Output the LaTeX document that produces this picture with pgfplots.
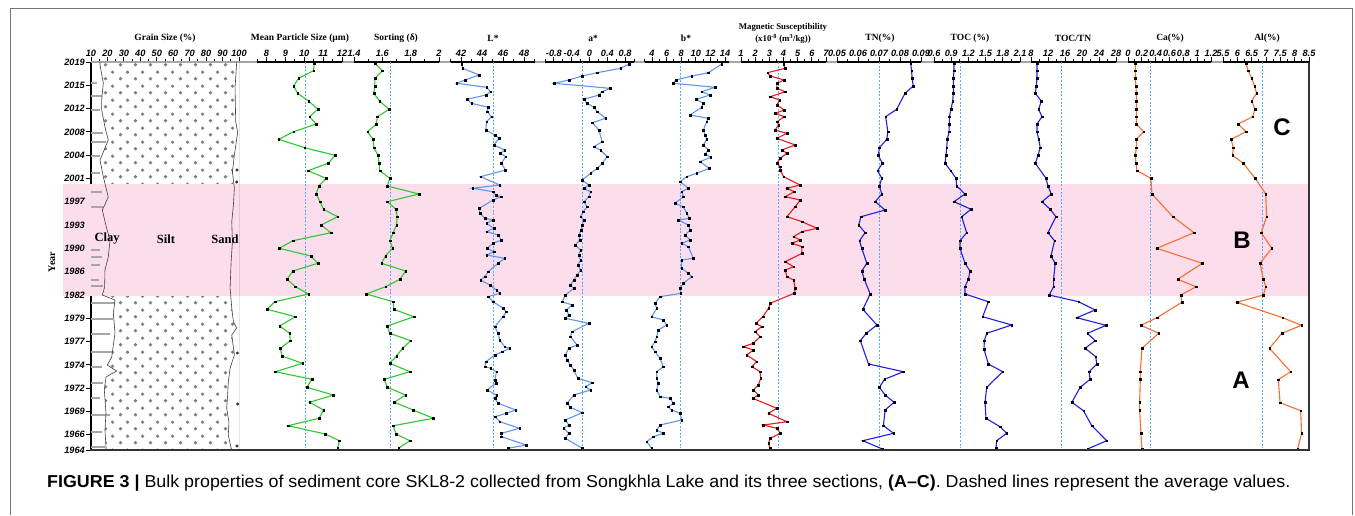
\documentclass[border=0pt]{standalone}
\usepackage{fontspec}
\setmainfont{Liberation Serif}
\newfontfamily\arial{Liberation Sans}
\usepackage{pgfplots}
\pgfplotsset{compat=1.18}
\usepgfplotslibrary{fillbetween}
\usetikzlibrary{patterns.meta}

\definecolor{pinkband}{RGB}{251,221,236}
\definecolor{lgreen}{RGB}{45,200,45}
\definecolor{lblue}{RGB}{95,150,240}
\definecolor{mred}{RGB}{238,25,25}
\definecolor{dblue}{RGB}{30,30,230}
\definecolor{orng}{RGB}{248,110,45}
\definecolor{avgc}{RGB}{85,170,250}

\newcommand\tickfont{\arial\bfseries\itshape\fontsize{9.2}{9.5}\selectfont}
\newcommand\ttlfont{\bfseries\fontsize{9.5}{10}\selectfont}

\tikzdeclarepattern{
  name=siltdots, type=colored,
  bottom left={(0pt,0pt)}, top right={(14.5pt,14pt)},
  tile size={(14.5pt,14pt)},
  code={
    \fill[black!50] (3.6pt,3.5pt) circle[radius=1.9pt];
    \fill[black!50] (10.85pt,10.5pt) circle[radius=1.9pt];
  }
}

\pgfplotsset{
  panel/.style={
    scale only axis, anchor=north west, height=388pt,
    ymin=0, ymax=388, y dir=reverse,
    axis x line*=top,
    axis line style={black, line width=1.1pt},
    tick style={black, line width=0.9pt},
    tick align=outside,
    major tick length=5pt, minor tick length=2.8pt,
    xticklabel style={font=\tickfont, inner sep=0.5pt},
    scaled x ticks=false,
  },
  rest/.style={panel, axis y line=none, ytick=\empty},
  ser/.style={line width=1.1pt, color=#1, mark=square*, mark size=0.85pt,
    mark options={draw=black, fill=black, line width=0.2pt}},
  avg/.style={avgc, line width=0.9pt, dash pattern=on 2pt off 1.6pt, mark=none},
}

\begin{document}
\begin{tikzpicture}
\begin{scope}[x=1pt,y=1pt]
\useasboundingbox (0,0) rectangle (1355,-515);
\draw[black!55, line width=1pt] (10,-515) -- (10,-8) -- (1352,-8) -- (1352,-515);
\fill[pinkband] (63,-184) rectangle (1309,-296);
\draw[black!35, line width=1.6pt] (91,-62) -- (1309,-62);
\end{scope}

% grain size
\begin{axis}[panel, at={(91pt,-62pt)}, width=148pt, xmin=10, xmax=100,
  xtick={10,20,...,100}, minor xtick={15,25,...,95},
  xticklabels={10,20,30,40,50,60,70,80,90,100},
  axis y line*=left,
  ytick={0,23.3,46.6,69.9,93.2,116.5,139.8,163.1,186.4,209.7,233,256.3,279.6,302.9,326.2,349.5,372.8,388},
  yticklabels={2019,2015,2012,2008,2004,2001,1997,1993,1990,1986,1982,1979,1977,1974,1972,1969,1966,1964},
  yticklabel style={font=\tickfont, inner sep=1pt},
  axis background/.style={fill=white}]
\addplot[xcomb, black!35, line width=1.5pt, mark=none] coordinates {
  (13.4,21) (16.5,34) (15.5,48) (17.5,71) (19,80) (15.5,94) (15.5,111) (16.5,130)
  (17.5,145) (15.5,188) (16.5,195) (15.5,203) (14.8,218) (17.5,224) (24.6,241)
  (23.6,257) (21.6,272) (23.6,290) (16.5,305) (17.5,321) (15.5,336) (21.6,353)
  (16.5,370) (18.5,385)};
\addplot[name path=clay, black!75, line width=0.6pt] coordinates {
  (15.5,0) (15.5,3) (17.5,21) (16.5,38) (16.5,48) (18.5,65) (20.5,78) (15.5,98)
  (17.5,115) (20.5,135) (16.9,148) (19.3,165) (21.6,178) (20.5,195) (18.5,208)
  (18.3,225) (16.9,233) (24.6,238) (23.6,251) (24.6,271) (22.6,295) (19.9,303)
  (25.6,309) (19.1,315) (18.1,328) (19.1,351) (18.5,368) (19.1,385) (19.1,388)};
\addplot[name path=sand, black!75, line width=0.6pt] coordinates {
  (98.6,0) (97.6,26) (98.0,60) (99.2,70) (97.2,93) (96.0,110) (97.2,126) (96.6,143)
  (95.6,160) (96.0,180) (95.2,200) (94.6,226) (95.6,246) (96.6,260) (98.6,266)
  (95.6,273) (97.2,293) (94.6,306) (93.5,320) (93.1,333) (92.5,346) (93.9,360)
  (93.5,373) (95.2,386) (95.6,388)};
\addplot[pattern=siltdots, draw=none] fill between[of=clay and sand];
\addplot[only marks, mark=*, mark size=1.3pt, black!80] coordinates {
  (98.8,108) (98.6,120) (99.0,291) (99.2,342) (98.8,384)};
\draw[black!80, line width=1pt] (axis cs:100,0) -- (axis cs:100,388);
\end{axis}

% mean particle size
\begin{axis}[rest, at={(257pt,-62pt)}, width=85pt, xmin=7.5, xmax=12,
  xtick={8,9,10,11,12}, minor xtick={7.5,8.5,9.5,10.5,11.5},
  xticklabels={8,9,10,11,12}]
\addplot[avg] coordinates {(10.05,0) (10.05,386)};
\addplot[ser=lgreen] coordinates {
  (10.53,1.3) (10.49,8.7) (9.70,16.3) (9.44,24) (9.65,31.3) (10.23,39) (10.72,47.3)
  (10.28,54.7) (10.63,62) (9.44,69.7) (8.65,77.3) (10.02,85.7) (11.63,93.3)
  (11.28,101.3) (10.19,108.7) (11.16,116.3) (10.77,124) (10.63,132) (10.84,139.7)
  (11.02,147.3) (11.77,154.7) (10.89,163) (11.42,170.7) (9.40,178.7) (8.68,186.3)
  (10.35,194) (10.72,201.3) (9.40,209) (9.09,217.3) (9.53,224.7) (10.23,232)
  (8.44,239.7) (8.04,247.3) (9.53,254.7) (8.70,264) (9.23,271.3) (9.26,278.7)
  (8.74,286.3) (8.82,294) (9.91,301.3) (8.47,309.7) (10.40,317.3) (10.14,325.3)
  (11.54,333) (10.28,340.3) (11.02,348) (10.79,356.3) (9.14,363.7) (11.11,372)
  (11.86,378.7) (11.77,386.3)};
\end{axis}

% sorting
\begin{axis}[rest, at={(354pt,-62pt)}, width=85pt, xmin=1.4, xmax=2,
  xtick={1.4,1.6,1.8,2}, minor xtick={1.5,1.7,1.9},
  xticklabels={1.4,1.6,1.8,2}]
\addplot[avg] coordinates {(1.66,0) (1.66,386)};
\addplot[ser=lgreen] coordinates {
  (1.547,1.3) (1.60,8.7) (1.547,16.3) (1.547,24) (1.54,31.3) (1.58,39) (1.648,47.3)
  (1.565,54.7) (1.558,62) (1.495,69.7) (1.535,77.3) (1.54,85.7) (1.57,93.3)
  (1.577,101.3) (1.582,108.7) (1.653,116.3) (1.634,124) (1.859,132) (1.636,139.7)
  (1.696,147.3) (1.705,154.7) (1.70,163) (1.677,170.7) (1.653,178.7) (1.672,186.3)
  (1.622,194) (1.594,201.3) (1.764,209) (1.724,217.3) (1.622,224.7) (1.487,232)
  (1.677,239.7) (1.681,247.3) (1.823,254.7) (1.634,264) (1.653,271.3) (1.80,278.7)
  (1.743,286.3) (1.70,294) (1.653,301.3) (1.795,309.7) (1.613,317.3) (1.636,325.3)
  (1.764,333) (1.684,340.3) (1.818,348) (1.96,356.3) (1.677,363.7) (1.696,372)
  (1.795,378.7) (1.714,386.3)};
\end{axis}

% L*
\begin{axis}[rest, at={(450.5pt,-62pt)}, width=84pt, xmin=41, xmax=49,
  xtick={42,44,46,48}, minor xtick={41,43,45,47,49},
  xticklabels={42,44,46,48}]
\addplot[avg] coordinates {(45.06,0) (45.06,386)};
\addplot[ser=lblue] coordinates {
  (42.06,2) (42.16,6.3) (43.74,13) (42.38,18) (41.59,21.3) (44.43,25.3) (44.81,29.7)
  (44.37,33) (42.60,37.3) (43.01,41.3) (44.59,45.3) (44.49,49.7) (44.90,54.7)
  (44.43,59.7) (44.37,68) (45.22,73) (45.63,76.3) (45.12,83) (46.16,88) (45.75,91.3)
  (46.26,94.7) (45.85,101.3) (46.23,108) (43.86,114.7) (45.69,123) (43.10,126.3)
  (45.06,129.7) (45.31,133) (45.79,134.7) (45.06,138) (43.74,146.3) (43.80,151.3)
  (44.27,156.3) (45.06,158) (44.43,161.3) (45.12,166.3) (44.43,169.7) (45.53,173)
  (45.85,178) (45.06,181.3) (44.49,186.3) (45.12,189.7) (44.43,193) (46.16,196.3)
  (45.53,201.3) (44.59,209.7) (44.27,214.7) (43.86,218) (44.74,223) (45.38,228)
  (45.69,231.3) (44.59,234.7) (45.06,239.7) (46.01,246.3) (46.32,249.7) (46.01,254.7)
  (45.22,264.7) (45.53,271.3) (45.69,278) (46.16,284.7) (46.64,286.3) (45.94,289.7)
  (45.22,293) (44.37,299.7) (44.27,304.7) (44.81,306.3) (45.38,309.7) (45.22,318)
  (45.31,321.3) (44.49,328) (45.38,333) (45.22,336.3) (45.53,341.3) (47.21,348)
  (46.32,351.3) (45.22,354.7) (45.69,359.7) (47.58,366.3) (45.85,371.3) (45.85,374.7)
  (48.21,383) (46.48,386.3)};
\end{axis}

% a*
\begin{axis}[rest, at={(545pt,-62pt)}, width=89pt, xmin=-1, xmax=1,
  xtick={-0.8,-0.4,0,0.4,0.8}, minor xtick={-1,-0.6,-0.2,0.2,0.6,1},
  xticklabels={-0.8,-0.4,0,0.4,0.8}]
\addplot[avg] coordinates {(-0.165,0) (-0.165,386)};
\addplot[ser=lblue] coordinates {
  (0.887,2) (0.70,6.3) (0.17,10.7) (-0.165,14) (-0.466,18) (-0.79,21.3) (0.459,26.3)
  (0.286,29.7) (0.21,33) (-0.128,37.3) (-0.053,41.3) (0.098,45.3) (0.173,49.7)
  (0.361,56.3) (0.06,60.7) (0.21,68) (0.286,79.7) (0.098,84.7) (0.248,88)
  (0.398,94.7) (0.286,101.3) (0.173,106.3) (0.023,111.3) (-0.165,118) (-0.015,123)
  (-0.128,126.3) (0.023,129.7) (-0.015,134.7) (-0.128,139.7) (-0.053,144.7)
  (-0.143,149.7) (-0.203,154.7) (-0.128,158) (-0.165,163) (-0.188,168) (-0.241,173)
  (-0.218,178) (-0.316,183) (-0.203,188) (-0.241,193) (-0.203,198) (-0.263,203)
  (-0.203,208) (-0.278,213) (-0.353,218) (-0.429,223) (-0.353,226.3) (-0.541,233)
  (-0.617,239.7) (-0.391,243) (-0.519,248) (-0.466,253) (-0.541,256.3) (-0.015,261.3)
  (-0.391,269.7) (-0.429,274.7) (-0.278,283) (-0.466,286.3) (-0.541,293) (-0.504,298)
  (-0.429,303) (-0.353,308) (-0.263,316.3) (0.06,320.7) (-0.09,324.7) (0.023,328)
  (-0.353,333) (-0.504,341.3) (-0.429,345.3) (-0.165,350.7) (-0.541,358) (-0.466,363)
  (-0.579,366.3) (-0.466,371.3) (-0.541,376.3) (-0.165,386.3)};
\end{axis}

% b*
\begin{axis}[rest, at={(644.7pt,-62pt)}, width=84pt, xmin=3, xmax=14.5,
  xtick={4,6,8,10,12,14}, minor xtick={3,5,7,9,11,13},
  xticklabels={4,6,8,10,12,14}]
\addplot[avg] coordinates {(7.93,0) (7.93,386)};
\addplot[ser=lblue] coordinates {
  (13.54,2) (11.72,10.7) (9.43,14) (7.29,18) (6.92,21.3) (12.63,25.3) (10.80,29.7)
  (11.95,33) (10.03,37.3) (11.03,41.3) (10.80,45.3) (9.21,53) (11.72,56.3)
  (11.49,59.7) (11.03,68) (11.26,73) (11.49,77.3) (11.03,83) (11.72,88) (11.26,92)
  (12.04,95.3) (10.58,99.7) (11.85,106.3) (10.12,111.3) (8.75,114.7) (7.84,119.7)
  (8.98,126.3) (8.06,129.7) (8.29,134.7) (7.15,141.3) (8.29,144.7) (8.75,151.3)
  (9.11,156.3) (7.61,158) (8.98,163) (9.21,168) (8.52,173) (9.21,178) (8.06,181.3)
  (8.98,184.7) (9.66,196.3) (8.06,198) (8.06,206.3) (8.98,211.3) (9.43,214.7)
  (8.29,221.3) (7.84,226.3) (7.93,231.3) (5.10,234.7) (4.41,241.3) (4.64,246.3)
  (3.95,254.7) (5.55,258) (6.01,263) (4.87,268) (4.64,274.7) (4.41,279.7) (3.95,284.7)
  (4.41,289.7) (5.10,296.3) (5.55,304.7) (4.64,309.7) (4.64,316.3) (4.87,321.3)
  (4.64,328) (5.10,334.7) (6.47,336.3) (6.92,341.3) (6.24,344.7) (6.69,348)
  (7.84,351.3) (8.06,358) (5.10,363) (4.64,368) (5.55,371.3) (4.18,374.7)
  (3.27,379.7) (3.95,386.3)};
\end{axis}

% magnetic susceptibility
\begin{axis}[rest, at={(741pt,-62pt)}, width=85pt, xmin=1, xmax=7,
  xtick={1,2,...,7}, minor xtick={1.5,2.5,...,6.5},
  xticklabels={1,2,3,4,5,6,7}]
\addplot[avg] coordinates {(3.65,0) (3.65,386)};
\addplot[ser=mred] coordinates {
  (4.00,2) (4.12,6.3) (2.87,10.7) (3.06,14) (4.05,18) (3.53,21.3) (3.53,26.3)
  (4.12,29.7) (3.06,34.7) (3.72,38) (3.53,43) (4.05,48) (3.41,51.3) (4.05,54.7)
  (3.53,59.7) (3.65,63) (3.41,68) (4.24,71.3) (3.53,76.3) (4.83,83) (3.88,88)
  (4.24,91.3) (3.77,96.3) (3.53,101.3) (3.77,104.7) (3.77,108) (4.00,114.7)
  (5.18,123) (4.24,126.3) (4.76,129.7) (4.12,134.7) (5.18,138) (4.83,144.7)
  (4.24,154.7) (5.30,159.7) (6.37,166.3) (5.30,169.7) (4.71,174.7) (5.18,178)
  (4.59,181.3) (5.30,184.7) (5.30,191.3) (4.12,199.7) (4.71,204.7) (4.12,208)
  (4.24,214.7) (4.71,218) (4.83,226.3) (4.76,231.3) (3.06,241.3) (2.94,246.3)
  (2.54,254.7) (2.06,261.3) (2.47,264.7) (1.99,269.7) (2.35,274.7) (1.87,281.3)
  (1.17,284.7) (1.87,288) (1.40,293) (2.11,299.7) (1.76,304.7) (2.35,309.7)
  (2.39,316.3) (2.23,323) (1.87,328) (2.23,333) (1.83,336.3) (3.53,346.3)
  (2.94,351.3) (4.24,359.7) (2.58,363) (3.53,366.3) (3.77,371.3) (3.06,376.3)
  (2.94,381.3) (3.06,386.3)};
\end{axis}

% TN
\begin{axis}[rest, at={(837pt,-62pt)}, width=84pt, xmin=0.05, xmax=0.09,
  xtick={0.05,0.06,0.07,0.08,0.09}, minor xtick={0.055,0.065,0.075,0.085},
  xticklabels={0.05,0.06,0.07,0.08,0.09}]
\addplot[avg] coordinates {(0.0702,0) (0.0702,386)};
\addplot[ser=dblue] coordinates {
  (0.0851,1.3) (0.0855,8.7) (0.0858,16.3) (0.0863,24) (0.0824,31.3) (0.0784,47.3)
  (0.0732,54.7) (0.0742,69.7) (0.0737,77.3) (0.0702,85.7) (0.0697,93.3)
  (0.0716,101.3) (0.0694,108.7) (0.0713,116.3) (0.0702,124) (0.0713,132)
  (0.0682,139.7) (0.0729,148) (0.0614,154.7) (0.0603,163) (0.0634,170.7)
  (0.0607,178.7) (0.0618,186.3) (0.0642,201.3) (0.0618,209) (0.0630,217.3)
  (0.0658,232) (0.0623,247.3) (0.0690,263) (0.0639,271.3) (0.0611,278.7)
  (0.0650,302) (0.0816,309.7) (0.0726,317.3) (0.0702,325.3) (0.0729,333)
  (0.0772,340.3) (0.0729,348) (0.0721,363.7) (0.0769,371.3) (0.0623,378.7)
  (0.0716,387)};
\end{axis}

% TOC
\begin{axis}[rest, at={(934pt,-62pt)}, width=86pt, xmin=0.6, xmax=2.1,
  xtick={0.6,0.9,1.2,1.5,1.8,2.1}, minor xtick={0.75,1.05,1.35,1.65,1.95},
  xticklabels={0.6,0.9,1.2,1.5,1.8,2.1}]
\addplot[avg] coordinates {(1.053,0) (1.053,386)};
\addplot[ser=dblue] coordinates {
  (0.949,1.3) (0.949,8.7) (0.937,16.3) (0.937,24) (0.937,31.3) (0.926,39)
  (0.897,47.3) (0.867,54.7) (0.867,62) (0.862,69.7) (0.833,77.3) (0.821,85.7)
  (0.809,93.3) (0.792,101.3) (0.89,108.7) (0.984,116.3) (0.995,124) (1.141,132)
  (0.949,139.7) (1.245,147.3) (1.083,154.7) (1.170,170.7) (1.053,178.7)
  (1.053,186.3) (1.141,201.3) (1.228,209) (1.199,217.3) (1.141,224.7) (1.141,232)
  (1.548,239.7) (1.449,254.7) (1.955,263) (1.519,271.3) (1.478,278.7) (1.472,287.3)
  (1.548,302) (1.798,309.7) (1.519,325.3) (1.49,340.3) (1.507,356.3) (1.751,364.7)
  (1.867,371.3) (1.693,378.7) (1.681,386.3)};
\end{axis}

% TOC/TN
\begin{axis}[rest, at={(1031pt,-62pt)}, width=85pt, xmin=8, xmax=28,
  xtick={8,12,...,28}, minor xtick={10,14,...,26},
  xticklabels={8,12,16,20,24,28}]
\addplot[avg] coordinates {(15.27,0) (15.27,386)};
\addplot[ser=dblue] coordinates {
  (9.41,1.3) (9.41,8.7) (9.41,16.3) (9.25,24) (9.02,31.3) (10.42,39) (9.80,47.3)
  (10.58,54.7) (9.41,62) (9.41,69.7) (9.80,77.3) (10.19,85.7) (9.64,93.3)
  (9.02,101.3) (11.52,116.3) (11.98,124) (12.77,132) (10.58,139.7) (12.53,147.3)
  (13.86,154.7) (11.98,170.7) (13.55,178.7) (12.69,194) (13.70,201.3) (13.31,217.3)
  (13.31,224.7) (12.30,233) (19.17,239.7) (23.08,248) (18.78,255.7) (25.66,263.3)
  (21.28,271.3) (23.08,278.7) (20.73,286.3) (23.23,294.7) (23.47,302) (21.67,309.7)
  (21.91,317.3) (19.56,325.3) (17.61,340.3) (20.34,348.7) (22.30,363.7)
  (25.81,378.7) (21.28,387)};
\end{axis}

% Ca
\begin{axis}[rest, at={(1128pt,-62pt)}, width=83pt, xmin=0, xmax=1.2,
  xtick={0,0.2,...,1.2}, minor xtick={0.1,0.3,...,1.1},
  xticklabels={0,0.2,0.4,0.6,0.8,1,1.2}]
\addplot[avg] coordinates {(0.32,0) (0.32,386)};
\addplot[ser=orng] coordinates {
  (0.106,1.3) (0.106,8.7) (0.106,16.3) (0.115,24) (0.12,31.3) (0.12,39) (0.12,47.3)
  (0.12,54.7) (0.12,62) (0.226,69.7) (0.12,77.3) (0.12,85.7) (0.106,93.3)
  (0.115,101.3) (0.13,108.7) (0.331,116.3) (0.346,132) (0.648,154.7) (0.955,170.7)
  (0.418,186.3) (1.075,201.3) (0.72,217.3) (0.984,224.7) (0.763,233) (0.778,240.3)
  (0.418,255.7) (0.187,263.3) (0.442,271.3) (0.202,286.3) (0.178,309.7)
  (0.178,317.3) (0.168,340.3) (0.168,348) (0.187,371.3) (0.202,387.3)};
\end{axis}

% Al
\begin{axis}[rest, at={(1223pt,-62pt)}, width=86pt, xmin=5.5, xmax=8.5,
  xtick={5.5,6,...,8.5}, minor xtick={5.75,6.25,...,8.25},
  xticklabels={5.5,6,6.5,7,7.5,8,8.5}]
\addplot[avg] coordinates {(6.87,0) (6.87,386)};
\addplot[ser=orng] coordinates {
  (6.30,1.3) (6.38,8.7) (6.50,16.3) (6.60,24) (6.67,31.3) (6.50,39) (6.62,47.3)
  (6.53,54.7) (6.03,62) (6.30,69.7) (5.78,77.3) (5.86,85.7) (5.83,93.3) (6.21,101.3)
  (6.62,116.3) (6.99,132) (7.02,154.7) (6.83,170.7) (7.20,186.3) (6.79,201.3)
  (6.91,217.3) (6.99,224.7) (6.91,233) (5.98,240.3) (7.58,255.7) (8.24,263.3)
  (7.55,271.3) (7.12,286.3) (7.86,309.7) (7.43,317.7) (7.49,340.7) (8.21,348.7)
  (8.24,371.3) (8.10,387.3)};
\end{axis}

\begin{scope}[x=1pt,y=1pt]
\draw[black!80, line width=1.6pt] (90,-450) -- (1310,-450);
\draw[black!80, line width=1.6pt] (1309,-62) -- (1309,-450);
\node[font=\ttlfont] at (165,-38) {Grain Size (\%)};
\node[font=\ttlfont] at (300,-38) {Mean Particle Size (µm)};
\node[font=\ttlfont] at (396,-38) {Sorting (δ)};
\node[font=\ttlfont] at (493,-38) {L*};
\node[font=\ttlfont] at (593,-38) {a*};
\node[font=\ttlfont] at (686,-38) {b*};
\node[font=\bfseries\fontsize{8.8}{9}\selectfont] at (783,-27) {Magnetic Susceptibility};
\node[font=\bfseries\fontsize{8.8}{9}\selectfont] at (783,-39) {(x10\textsuperscript{-8} (m\textsuperscript{3}/kg))};
\node[font=\ttlfont] at (880,-38) {TN(\%)};
\node[font=\ttlfont] at (970,-38) {TOC (\%)};
\node[font=\ttlfont] at (1073,-38) {TOC/TN};
\node[font=\ttlfont] at (1170,-38) {Ca(\%)};
\node[font=\ttlfont] at (1267,-38) {Al(\%)};
\node[rotate=90, font=\bfseries\fontsize{10}{10}\selectfont] at (52,-262) {Year};
\node[font=\bfseries\fontsize{12.5}{13}\selectfont] at (107,-239) {Clay};
\node[font=\bfseries\fontsize{12.5}{13}\selectfont] at (166,-239) {Silt};
\node[font=\bfseries\fontsize{12.5}{13}\selectfont] at (225,-239) {Sand};
\node[font=\arial\bfseries\fontsize{24}{24}\selectfont] at (1282,-127) {C};
\node[font=\arial\bfseries\fontsize{24}{24}\selectfont] at (1242,-240) {B};
\node[font=\arial\bfseries\fontsize{24}{24}\selectfont] at (1241,-380) {A};
\node[anchor=west, inner sep=0pt] at (47,-483) {\resizebox{1243pt}{12.5pt}{\arial\textbf{FIGURE 3 |} Bulk properties of sediment core SKL8-2 collected from Songkhla Lake and its three sections, \textbf{(A–C)}. Dashed lines represent the average values.}};
\end{scope}
\end{tikzpicture}
\end{document}
